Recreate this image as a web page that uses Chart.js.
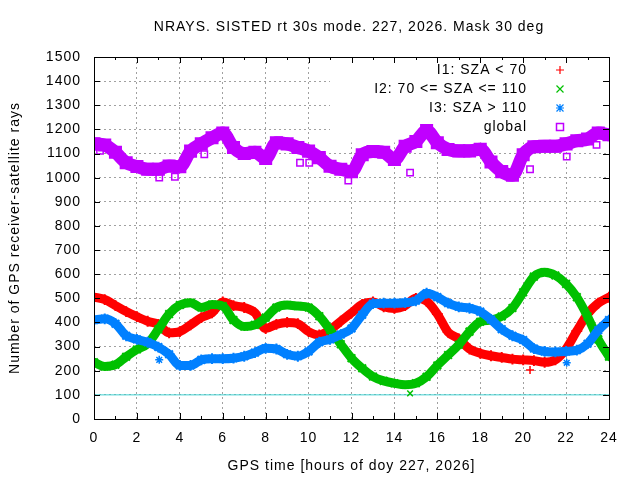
<!DOCTYPE html>
<html>
<head>
<meta charset="utf-8">
<script src="https://cdn.jsdelivr.net/npm/chart.js@4.4.0/dist/chart.umd.min.js"></script>
<style>
  html, body { margin: 0; padding: 0; background: #fff; }
  #wrap { width: 640px; height: 480px; }
</style>
</head>
<body>
<div id="wrap"><canvas id="rays"></canvas></div>
<script>
// hours of day, half-hour steps
const hours = [0, 0.5, 1, 1.5, 2, 2.5, 3, 3.5, 4, 4.5, 5, 5.5, 6, 6.5, 7, 7.5, 8, 8.5, 9, 9.5,
  10, 10.5, 11, 11.5, 12, 12.5, 13, 13.5, 14, 14.5, 15, 15.5, 16, 16.5, 17, 17.5, 18, 18.5, 19, 19.5,
  20, 20.5, 21, 21.5, 22, 22.5, 23, 23.5, 24];

const raysI1 = [505, 495, 470, 445, 424, 405, 392, 357, 362, 390, 420, 440, 485, 470, 462, 440, 375, 392, 400, 395,
  362, 348, 370, 405, 440, 475, 485, 465, 458, 470, 500, 488, 435, 360, 332, 290, 272, 262, 255, 248,
  245, 242, 235, 245, 290, 365, 435, 480, 505];
const raysI2 = [235, 218, 225, 258, 288, 312, 372, 435, 472, 482, 462, 474, 468, 410, 383, 390, 420, 462, 472, 468,
  462, 426, 369, 310, 252, 210, 176, 158, 148, 142, 148, 175, 222, 265, 308, 362, 403, 410, 425, 460,
  525, 590, 608, 595, 560, 505, 425, 330, 258];
const raysI3 = [410, 415, 395, 345, 330, 318, 298, 268, 222, 222, 245, 250, 250, 252, 260, 275, 293, 290, 268, 260,
  280, 318, 330, 350, 375, 432, 478, 480, 480, 482, 490, 521, 505, 480, 465, 459, 445, 412, 372, 345,
  327, 292, 280, 278, 280, 285, 312, 368, 410];
const raysGlobal = [1140, 1135, 1105, 1062, 1046, 1035, 1035, 1048, 1045, 1110, 1140, 1165, 1185, 1125, 1100, 1105, 1080, 1145, 1140, 1125,
  1110, 1083, 1047, 1035, 1025, 1095, 1108, 1105, 1075, 1130, 1150, 1195, 1145, 1117, 1111, 1111, 1118, 1065, 1025, 1010,
  1095, 1128, 1130, 1130, 1140, 1153, 1160, 1185, 1178];

// stray samples away from the bands
const strayI1Hours = [20.32];
const strayI1 = [203];
const strayI2Hours = [14.73];
const strayI2 = [106];
const strayI3Hours = [3.04, 22.03];
const strayI3 = [245, 233];
const strayGlobalHours = [0.28, 3.04, 3.77, 5.14, 9.6, 10.03, 11.85, 14.73, 20.32, 22.03, 23.42];
const strayGlobal = [1111, 1000, 1004, 1097, 1062, 1062, 988, 1021, 1035, 1087, 1136];

// 100-ray reference level
const refHours = [0, 24];
const refLevel = [100, 100];

const seriesNames = ['I1: SZA < 70', 'I2: 70 <= SZA <= 110', 'I3: SZA > 110', 'global'];
const seriesColors = ['#ff0000', '#00c000', '#0080ff', '#c000ff'];

function pairs(xs, ys) {
  return xs.map((x, i) => ({ x: x, y: ys[i] }));
}

const FONT = 'Liberation Sans, Arial, sans-serif';

function band(data, color, width, style, order) {
  return {
    data: data, borderColor: color, backgroundColor: color, borderWidth: width,
    showLine: true, cubicInterpolationMode: 'monotone',
    pointStyle: style, pointRadius: width * 0.6, pointBorderWidth: 2,
    borderCapStyle: 'round', borderJoinStyle: 'round', order: order
  };
}
function stray(data, color, style, order) {
  return {
    data: data, borderColor: color, backgroundColor: style === 'rect' ? 'rgba(0,0,0,0)' : color,
    pointStyle: style, pointRadius: style === 'rect' ? 4.5 : 4, pointBorderWidth: 1.5,
    showLine: false, order: order
  };
}

// gnuplot-ish frame, inward ticks, opaque key and legend
const framePlugin = {
  id: 'frame',
  beforeDraw(chart) {
    chart.ctx.letterSpacing = '1px';
  },
  beforeDatasetsDraw(chart) {
    const { ctx, chartArea: a, scales: { y } } = chart;
    ctx.save();
    ctx.fillStyle = '#fff';
    ctx.fillRect(330, a.top + 1, a.right - 331, y.getPixelForValue(1150) - a.top);
    ctx.restore();
  },
  afterDatasetsDraw(chart) {
    const { ctx, chartArea: a, scales: { x, y } } = chart;
    ctx.save();
    ctx.strokeStyle = '#000';
    ctx.lineWidth = 1;
    ctx.beginPath();
    for (let h = 0; h <= 24; h++) {
      const px = Math.round(x.getPixelForValue(h)) + 0.5;
      const len = h % 2 === 0 ? 6 : 3;
      ctx.moveTo(px, a.bottom); ctx.lineTo(px, a.bottom - len);
      ctx.moveTo(px, a.top); ctx.lineTo(px, a.top + len);
    }
    for (let v = 0; v <= 1500; v += 100) {
      const py = Math.round(y.getPixelForValue(v)) + 0.5;
      ctx.moveTo(a.left, py); ctx.lineTo(a.left + 6, py);
      ctx.moveTo(a.right, py); ctx.lineTo(a.right - 6, py);
    }
    ctx.stroke();
    ctx.strokeRect(Math.round(a.left) + 0.5, Math.round(a.top) + 0.5,
      Math.round(a.right - a.left), Math.round(a.bottom - a.top));

    // title
    ctx.fillStyle = '#000';
    ctx.font = '14px ' + FONT;
    ctx.letterSpacing = '1px';
    ctx.textAlign = 'center';
    ctx.textBaseline = 'middle';
    ctx.fillText('NRAYS. SISTED rt 30s mode. 227, 2026. Mask 30 deg', 349, 27);

    // key
    ctx.textAlign = 'right';
    const rowY = [70, 89, 108, 127];
    const mx = 560;
    seriesNames.forEach((name, i) => {
      ctx.fillStyle = '#000';
      ctx.fillText(name, 527, rowY[i]);
      ctx.strokeStyle = seriesColors[i];
      ctx.lineWidth = 1.2;
      const yy = rowY[i];
      ctx.beginPath();
      if (i === 0 || i === 2) {
        ctx.moveTo(mx - 4, yy); ctx.lineTo(mx + 4, yy);
        ctx.moveTo(mx, yy - 4); ctx.lineTo(mx, yy + 4);
      }
      if (i === 1 || i === 2) {
        ctx.moveTo(mx - 3.5, yy - 3.5); ctx.lineTo(mx + 3.5, yy + 3.5);
        ctx.moveTo(mx - 3.5, yy + 3.5); ctx.lineTo(mx + 3.5, yy - 3.5);
      }
      if (i === 3) {
        ctx.lineWidth = 1.5;
        ctx.rect(mx - 3.5, yy - 3.5, 7, 7);
      }
      ctx.stroke();
    });
    ctx.restore();
  }
};

new Chart(document.getElementById('rays'), {
  type: 'scatter',
  data: {
    datasets: [
      { data: pairs(refHours, refLevel), borderColor: '#40d0d0', borderWidth: 1, showLine: true, pointRadius: 0, order: 9 },
      band(pairs(hours, raysI1), seriesColors[0], 9, 'cross', 4),
      stray(pairs(strayI1Hours, strayI1), seriesColors[0], 'cross', 4),
      band(pairs(hours, raysI2), seriesColors[1], 9, 'crossRot', 3),
      stray(pairs(strayI2Hours, strayI2), seriesColors[1], 'crossRot', 3),
      band(pairs(hours, raysI3), seriesColors[2], 9, 'star', 2),
      stray(pairs(strayI3Hours, strayI3), seriesColors[2], 'star', 2),
      band(pairs(hours, raysGlobal), seriesColors[3], 13, 'rect', 1),
      stray(pairs(strayGlobalHours, strayGlobal), seriesColors[3], 'rect', 1)
    ]
  },
  options: {
    responsive: true,
    maintainAspectRatio: false,
    devicePixelRatio: 1,
    animation: false,
    layout: { padding: { top: 57, right: 31, left: 0, bottom: 0 } },
    plugins: {
      legend: { display: false },
      title: { display: false },
      tooltip: { enabled: false }
    },
    scales: {
      x: {
        type: 'linear', min: 0, max: 24,
        afterFit: function(scale) { scale.height = 61; },
        ticks: { stepSize: 2, color: '#000', padding: 11, font: { family: FONT, size: 14 },
          callback: function(value) { return String(value); } },
        grid: { color: '#a0a0a0', lineWidth: 1, drawTicks: false },
        border: { display: false, dash: [2, 3] },
        title: { display: true, text: 'GPS time [hours of doy 227, 2026]', color: '#000',
          font: { family: FONT, size: 14 }, padding: { top: 0, bottom: 5 } }
      },
      y: {
        min: 0, max: 1500,
        afterFit: function(scale) { scale.width = 94; },
        ticks: { stepSize: 100, color: '#000', padding: 13, font: { family: FONT, size: 14 },
          callback: function(value) { return String(value); } },
        grid: { color: '#a0a0a0', lineWidth: 1, drawTicks: false },
        border: { display: false, dash: [2, 3] },
        title: { display: true, text: 'Number of GPS receiver-satellite rays', color: '#000',
          font: { family: FONT, size: 14 }, padding: { top: 7, bottom: 0 } }
      }
    }
  },
  plugins: [framePlugin]
});
</script>
</body>
</html>
